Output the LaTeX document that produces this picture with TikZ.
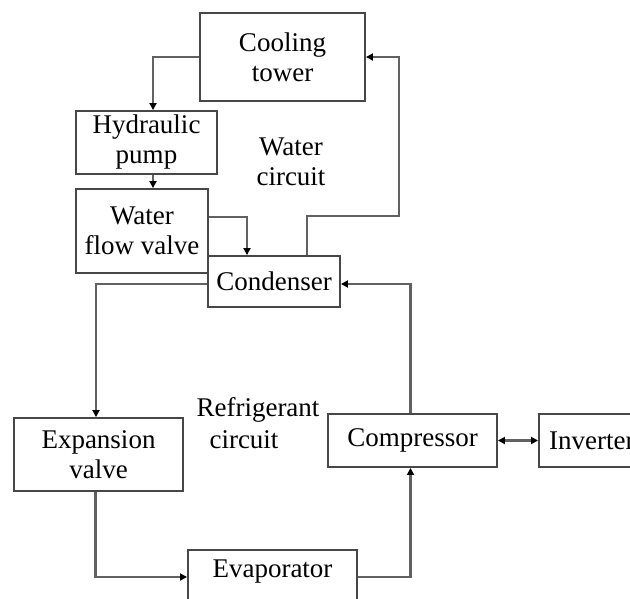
\documentclass[tikz,border=0pt]{standalone}
\usepackage{fontspec}
\setmainfont{Liberation Serif}
\usetikzlibrary{arrows.meta}
\begin{document}
\begin{tikzpicture}[x=1pt,y=-1pt,
  box/.style={draw=black!72,line width=1.9pt,inner sep=0pt,align=center,font=\fontsize{27}{30}\selectfont},
  txt/.style={inner sep=0pt,align=center,font=\fontsize{27}{30}\selectfont},
  arr/.style={draw=black!62,line width=2.1pt,-{Triangle[length=7pt,width=7pt,color=black]}},
  dbl/.style={draw=black!62,line width=2.1pt,{Triangle[length=7pt,width=7pt,color=black]}-{Triangle[length=7pt,width=7pt,color=black]}}]
\useasboundingbox (0,0) rectangle (630,598);
\fill[white] (0,0) rectangle (630,598);
% boxes
\node[box,minimum width=165pt,minimum height=88pt] (tower) at (282.5,57) {Cooling\\tower};
\node[box,minimum width=141pt,minimum height=63pt] (pump) at (146.5,142.5) {Hydraulic\\pump};
\node[box,minimum width=132pt,minimum height=84pt] (valve) at (142,231) {Water\\flow valve};
\node[box,minimum width=132pt,minimum height=51pt,fill=white] (cond) at (274,281.5) {Condenser};
\node[box,minimum width=169pt,minimum height=73pt] (exp) at (98.5,454.5) {Expansion\\valve};
\node[box,minimum width=169pt,minimum height=53pt] (comp) at (412.5,440.5) {Compressor};
\node[box,minimum width=140pt,minimum height=53pt] (inv) at (609,440.5) {};
\node[txt,anchor=west] (invt) at (549,441) {Inverter};
\node[box,minimum width=169pt,minimum height=64pt] (evap) at (272.5,582) {};
\node[txt] (evapt) at (272.5,572) {Evaporator};
% labels
\node[txt] (wc) at (291,161.5) {Water\\circuit};
\node[txt] (rc1) at (258,410) {Refrigerant};
\node[txt] (rc2) at (244,440) {circuit};
% water circuit
\draw[arr] (tower.west) -| ([xshift=6.5pt]pump.north);
\draw[arr] ([xshift=6.5pt]pump.south) -- ([xshift=6.5pt]pump.south |- valve.north);
\draw[arr] ([yshift=14pt]valve.east) -| ([xshift=-27pt]cond.north);
\draw[arr] ([xshift=33pt]cond.north) -- ++(0,-39) -| ([xshift=33pt]tower.east) -- (tower.east);
% refrigerant circuit
\draw[arr] ([yshift=-2.5pt]cond.west) -| ([xshift=-2.5pt]exp.north);
\draw[arr] ([xshift=-3pt]exp.south) |- ([yshift=5pt]evap.west);
\draw[arr] ([yshift=5pt]evap.east) -| ([xshift=-2pt]comp.south);
\draw[arr] ([xshift=-2pt]comp.north) |- ([yshift=-2.5pt]cond.east);
\draw[dbl] (comp.east) -- (inv.west);
\end{tikzpicture}
\end{document}
